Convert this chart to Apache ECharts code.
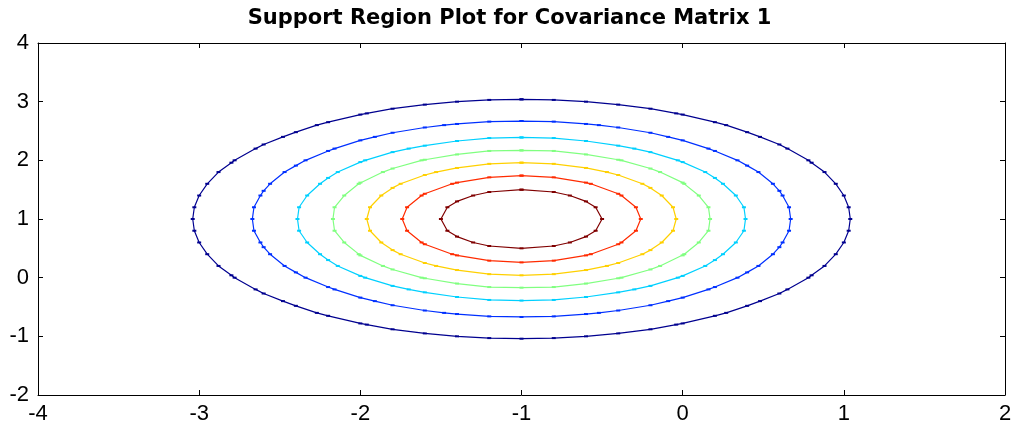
<!DOCTYPE html>
<html>
<head>
<meta charset="utf-8">
<script src="https://cdn.jsdelivr.net/npm/echarts@6/dist/echarts.min.js"></script>
<style>
	html, body { margin: 0; padding: 0; background: #fff; }
	#chart { width: 1019px; height: 435px; }
</style>
</head>
<body>
<div id="chart"></div>
<script>
// contour vertices, outer ring first (x, y)
var contour1 = [
	[-1,3.04],[-0.8,3.03],[-0.6,3],[-0.4,2.95],[-0.2,2.88],[-0.04,2.8],[0,2.78],[0.2,2.65],[0.27,2.6],[0.4,2.48],[0.48,2.4],[0.6,2.27],[0.65,2.2],[0.78,2],[0.8,1.96],[0.88,1.8],[0.95,1.6],[1,1.4],[1.03,1.2],[1.04,1],
	[1.03,0.8],[1,0.6],[0.95,0.4],[0.88,0.2],[0.8,0.04],[0.78,0],[0.65,-0.2],[0.6,-0.27],[0.48,-0.4],[0.4,-0.48],[0.27,-0.6],[0.2,-0.65],[0,-0.78],[-0.04,-0.8],[-0.2,-0.88],[-0.4,-0.95],[-0.6,-1],[-0.8,-1.03],[-1,-1.04],
	[-1.2,-1.03],[-1.4,-1],[-1.6,-0.95],[-1.8,-0.88],[-1.96,-0.8],[-2,-0.78],[-2.2,-0.65],[-2.27,-0.6],[-2.4,-0.48],[-2.48,-0.4],[-2.6,-0.27],[-2.65,-0.2],[-2.78,0],[-2.8,0.04],[-2.88,0.2],[-2.95,0.4],[-3,0.6],[-3.03,0.8],[-3.04,1],
	[-3.03,1.2],[-3,1.4],[-2.95,1.6],[-2.88,1.8],[-2.8,1.96],[-2.78,2],[-2.65,2.2],[-2.6,2.27],[-2.48,2.4],[-2.4,2.48],[-2.27,2.6],[-2.2,2.65],[-2,2.78],[-1.96,2.8],[-1.8,2.88],[-1.6,2.95],[-1.4,3],[-1.2,3.03],[-1,3.04]
];
var contour2 = [
	[-1,2.67],[-0.8,2.66],[-0.6,2.62],[-0.52,2.6],[-0.4,2.56],[-0.2,2.47],[-0.09,2.4],[0,2.34],[0.16,2.2],[0.2,2.16],[0.34,2],[0.4,1.91],[0.47,1.8],[0.56,1.6],[0.6,1.48],[0.62,1.4],[0.66,1.2],[0.67,1],
	[0.66,0.8],[0.62,0.6],[0.6,0.52],[0.56,0.4],[0.47,0.2],[0.4,0.09],[0.34,0],[0.2,-0.16],[0.16,-0.2],[0,-0.34],[-0.09,-0.4],[-0.2,-0.47],[-0.4,-0.56],[-0.52,-0.6],[-0.6,-0.62],[-0.8,-0.66],[-1,-0.67],
	[-1.2,-0.66],[-1.4,-0.62],[-1.48,-0.6],[-1.6,-0.56],[-1.8,-0.47],[-1.91,-0.4],[-2,-0.34],[-2.16,-0.2],[-2.2,-0.16],[-2.34,0],[-2.4,0.09],[-2.47,0.2],[-2.56,0.4],[-2.6,0.52],[-2.62,0.6],[-2.66,0.8],[-2.67,1],
	[-2.66,1.2],[-2.62,1.4],[-2.6,1.48],[-2.56,1.6],[-2.47,1.8],[-2.4,1.91],[-2.34,2],[-2.2,2.16],[-2.16,2.2],[-2,2.34],[-1.91,2.4],[-1.8,2.47],[-1.6,2.56],[-1.48,2.6],[-1.4,2.62],[-1.2,2.66],[-1,2.67]
];
var contour3 = [
	[-1,2.39],[-0.8,2.38],[-0.6,2.33],[-0.4,2.25],[-0.3,2.2],[-0.2,2.14],[-0.03,2],[0,1.97],[0.14,1.8],[0.2,1.7],[0.25,1.6],[0.33,1.4],[0.38,1.2],[0.39,1],
	[0.38,0.8],[0.33,0.6],[0.25,0.4],[0.2,0.3],[0.14,0.2],[0,0.03],[-0.03,0],[-0.2,-0.14],[-0.3,-0.2],[-0.4,-0.25],[-0.6,-0.33],[-0.8,-0.38],[-1,-0.39],
	[-1.2,-0.38],[-1.4,-0.33],[-1.6,-0.25],[-1.7,-0.2],[-1.8,-0.14],[-1.97,0],[-2,0.03],[-2.14,0.2],[-2.2,0.3],[-2.25,0.4],[-2.33,0.6],[-2.38,0.8],[-2.39,1],
	[-2.38,1.2],[-2.33,1.4],[-2.25,1.6],[-2.2,1.7],[-2.14,1.8],[-2,1.97],[-1.97,2],[-1.8,2.14],[-1.7,2.2],[-1.6,2.25],[-1.4,2.33],[-1.2,2.38],[-1,2.39]
];
var contour4 = [
	[-1,2.17],[-0.8,2.16],[-0.6,2.1],[-0.4,2.01],[-0.38,2],[-0.2,1.86],[-0.14,1.8],[0,1.62],[0.01,1.6],[0.1,1.4],[0.16,1.2],[0.17,1],
	[0.16,0.8],[0.1,0.6],[0.01,0.4],[0,0.38],[-0.14,0.2],[-0.2,0.14],[-0.38,0],[-0.4,-0.01],[-0.6,-0.1],[-0.8,-0.16],[-1,-0.17],
	[-1.2,-0.16],[-1.4,-0.1],[-1.6,-0.01],[-1.62,0],[-1.8,0.14],[-1.86,0.2],[-2,0.38],[-2.01,0.4],[-2.1,0.6],[-2.16,0.8],[-2.17,1],
	[-2.16,1.2],[-2.1,1.4],[-2.01,1.6],[-2,1.62],[-1.86,1.8],[-1.8,1.86],[-1.62,2],[-1.6,2.01],[-1.4,2.1],[-1.2,2.16],[-1,2.17]
];
var contour5 = [
	[-1,1.96],[-0.8,1.94],[-0.6,1.87],[-0.47,1.8],[-0.4,1.75],[-0.25,1.6],[-0.2,1.53],[-0.13,1.4],[-0.06,1.2],[-0.04,1],
	[-0.06,0.8],[-0.13,0.6],[-0.2,0.47],[-0.25,0.4],[-0.4,0.25],[-0.47,0.2],[-0.6,0.13],[-0.8,0.06],[-1,0.04],
	[-1.2,0.06],[-1.4,0.13],[-1.53,0.2],[-1.6,0.25],[-1.75,0.4],[-1.8,0.47],[-1.87,0.6],[-1.94,0.8],[-1.96,1],
	[-1.94,1.2],[-1.87,1.4],[-1.8,1.53],[-1.75,1.6],[-1.6,1.75],[-1.53,1.8],[-1.4,1.87],[-1.2,1.94],[-1,1.96]
];
var contour6 = [
	[-1,1.74],[-0.8,1.71],[-0.6,1.62],[-0.57,1.6],[-0.4,1.43],[-0.38,1.4],[-0.29,1.2],[-0.26,1],
	[-0.29,0.8],[-0.38,0.6],[-0.4,0.57],[-0.57,0.4],[-0.6,0.38],[-0.8,0.29],[-1,0.26],
	[-1.2,0.29],[-1.4,0.38],[-1.43,0.4],[-1.6,0.57],[-1.62,0.6],[-1.71,0.8],[-1.74,1],
	[-1.71,1.2],[-1.62,1.4],[-1.6,1.43],[-1.43,1.6],[-1.4,1.62],[-1.2,1.71],[-1,1.74]
];
var contour7 = [
	[-1,1.5],[-0.8,1.46],[-0.7,1.4],[-0.6,1.3],[-0.54,1.2],[-0.5,1],
	[-0.54,0.8],[-0.6,0.7],[-0.7,0.6],[-0.8,0.54],[-1,0.5],
	[-1.2,0.54],[-1.3,0.6],[-1.4,0.7],[-1.46,0.8],[-1.5,1],
	[-1.46,1.2],[-1.4,1.3],[-1.3,1.4],[-1.2,1.46],[-1,1.5]
];
var contours = [contour1, contour2, contour3, contour4, contour5, contour6, contour7];
var xRange = [-4, 2];
var yRange = [-2, 4];

var chart = echarts.init(document.getElementById('chart'));
var lineColors = ['#00008f', '#0030ff', '#00d0ff', '#80ff80', '#ffd000', '#ff2b00', '#800000'];

var tickFont = { color: '#000', fontSize: 22, fontFamily: '"Liberation Sans", Arial, sans-serif' };
function axisBase(showLabel, margin) {
	return {
		axisLine: { show: true, onZero: false, lineStyle: { color: '#000', width: 1 } },
		axisTick: { show: true, inside: true, length: 5, lineStyle: { color: '#000' } },
		axisLabel: Object.assign({ show: showLabel, margin: margin }, tickFont),
		splitLine: { show: false }
	};
}

var series = contours.map(function (pts, i) {
	return {
		type: 'line',
		data: pts,
		xAxisIndex: 0,
		yAxisIndex: 0,
		showSymbol: true,
		symbol: 'rect',
		symbolSize: [4, 2],
		itemStyle: { color: lineColors[i] },
		lineStyle: { color: lineColors[i], width: 1.2 },
		smooth: false,
		silent: true
	};
});

chart.setOption({
	animation: false,
	title: {
		text: 'Support Region Plot for Covariance Matrix 1',
		left: 'center',
		top: 3,
		textStyle: { color: '#000', fontSize: 21, fontWeight: 'bold', fontFamily: '"DejaVu Sans", sans-serif' }
	},
	grid: { left: 38, right: 14, top: 43, bottom: 40 },
	xAxis: [
		Object.assign({ type: 'value', position: 'bottom', min: xRange[0], max: xRange[1], interval: 1 }, axisBase(true, 8)),
		Object.assign({ type: 'value', position: 'top', min: xRange[0], max: xRange[1], interval: 1 }, axisBase(false, 8))
	],
	yAxis: [
		Object.assign({ type: 'value', position: 'left', min: yRange[0], max: yRange[1], interval: 1 }, axisBase(true, 9)),
		Object.assign({ type: 'value', position: 'right', min: yRange[0], max: yRange[1], interval: 1 }, axisBase(false, 9))
	],
	series: series
});
</script>
</body>
</html>
